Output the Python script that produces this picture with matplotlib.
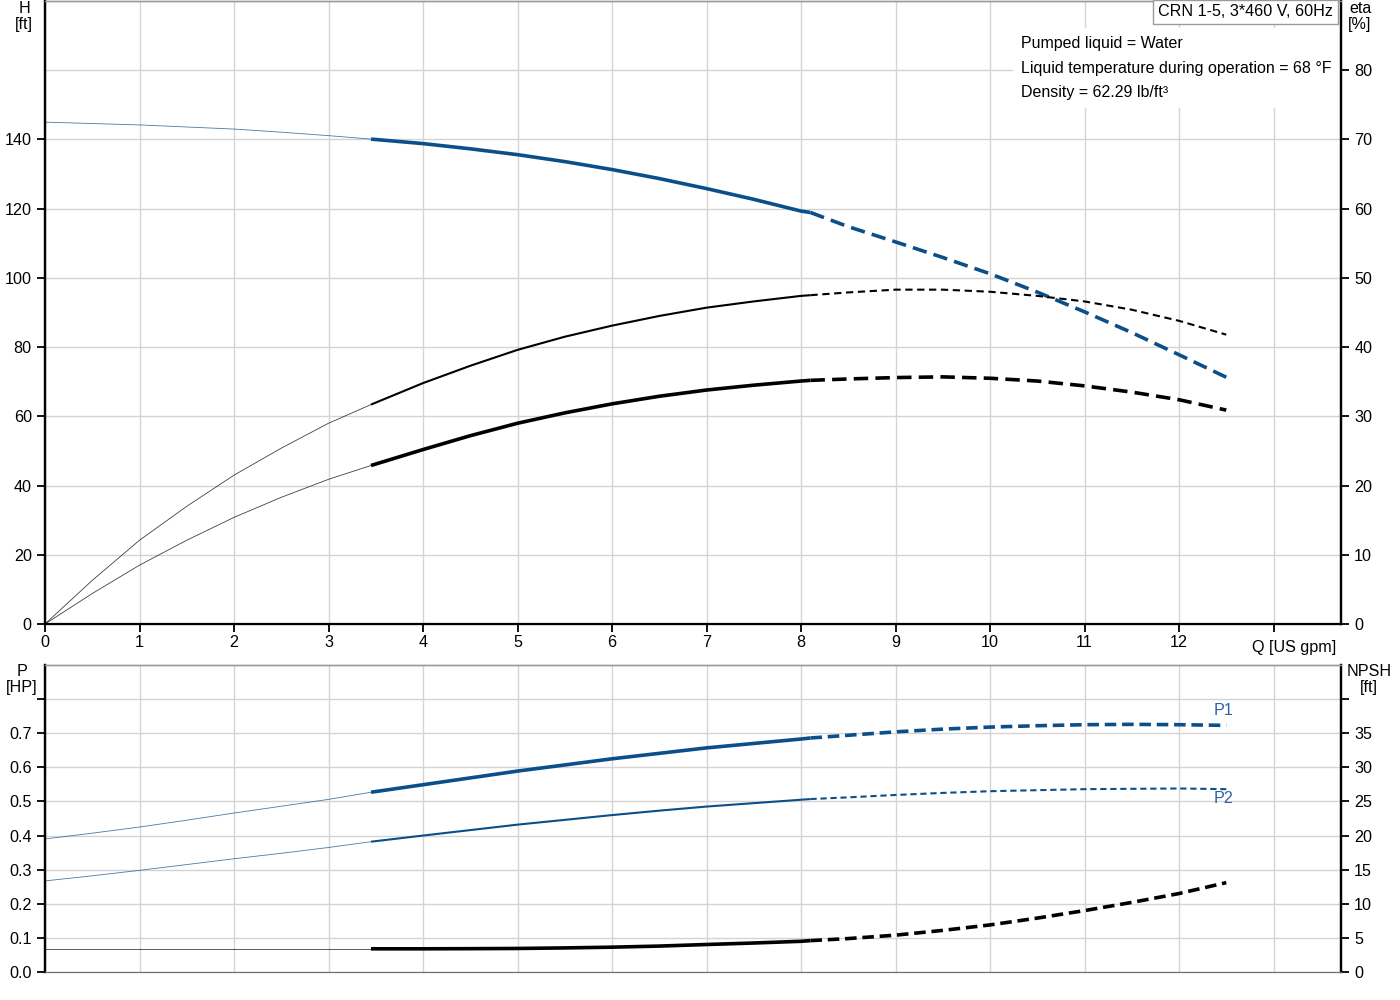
import matplotlib
matplotlib.use('Agg')
import matplotlib.pyplot as plt

plt.rcParams['font.family'] = ['Liberation Sans', 'DejaVu Sans']
plt.rcParams['font.size'] = 11.6

# flow points (US gpm)
q = [0, 0.5, 1, 1.5, 2, 2.5, 3, 3.45, 4, 4.5, 5, 5.5, 6, 6.5, 7, 7.5, 8, 8.1,
     8.5, 9, 9.5, 10, 10.5, 11, 11.5, 12, 12.5]
head = [145, 144.6, 144.2, 143.6, 143.0, 142.1, 141.1, 140.1, 138.8, 137.3, 135.6, 133.6,
        131.3, 128.7, 125.8, 122.7, 119.3, 118.9,
        114.8, 110.4, 105.9, 101.2, 95.9, 90.2, 84.2, 77.8, 71.3]
eta_pump = [0, 6.3, 12.1, 17.0, 21.5, 25.4, 29.0, 31.7, 34.8, 37.3, 39.6, 41.5,
            43.1, 44.5, 45.7, 46.6, 47.4, 47.5,
            47.9, 48.3, 48.3, 48.0, 47.4, 46.6, 45.4, 43.8, 41.8]
eta_total = [0, 4.4, 8.5, 12.1, 15.4, 18.3, 20.9, 22.9, 25.2, 27.2, 29.0, 30.5,
             31.8, 32.9, 33.8, 34.5, 35.1, 35.2,
             35.4, 35.6, 35.7, 35.5, 35.1, 34.4, 33.5, 32.4, 30.9]
p1 = [0.390, 0.407, 0.425, 0.445, 0.466, 0.486, 0.506, 0.527, 0.549, 0.569, 0.589, 0.607,
      0.625, 0.641, 0.657, 0.670, 0.683, 0.686,
      0.694, 0.704, 0.712, 0.718, 0.722, 0.725, 0.726, 0.725, 0.723]
p2 = [0.267, 0.282, 0.298, 0.315, 0.332, 0.348, 0.365, 0.382, 0.400, 0.416, 0.432, 0.446,
      0.460, 0.473, 0.485, 0.495, 0.505, 0.507,
      0.512, 0.519, 0.525, 0.530, 0.533, 0.536, 0.537, 0.538, 0.536]
npsh = [3.4, 3.4, 3.4, 3.4, 3.4, 3.4, 3.4, 3.4, 3.4, 3.42, 3.45, 3.53,
        3.64, 3.8, 4.03, 4.25, 4.5, 4.6,
        4.9, 5.4, 6.1, 6.9, 7.9, 9.0, 10.2, 11.5, 13.1]

q_lo = 3.45   # start of the solid range
q_hi = 8.1    # start of the dashed range

BLUE = '#0b4f8a'
GRID = '#d4d4d4'
W, H = 1400, 1000


def curve(ax, y, color, lw, dash):
    i1 = q.index(q_lo)
    i2 = q.index(q_hi)
    ax.plot(q[:i1 + 1], y[:i1 + 1], color=color, lw=0.6, alpha=0.75, zorder=3)
    ax.plot(q[i1:i2 + 1], y[i1:i2 + 1], color=color, lw=lw, zorder=3,
            solid_capstyle='butt')
    ax.plot(q[i2:], y[i2:], color=color, lw=lw, zorder=3, dashes=dash,
            dash_capstyle='butt')


def style(ax, axr):
    for a in (ax, axr):
        a.spines['top'].set_color('#9a9a9a')
        a.spines['top'].set_linewidth(1)
        a.spines['left'].set_linewidth(1.6)
        a.spines['right'].set_linewidth(1.6)
    ax.tick_params(direction='out', length=6, width=1.3, colors='black')
    axr.tick_params(direction='out', length=6, width=1.3, colors='black')
    axr.tick_params(axis='x', length=0)
    ax.grid(True, which='both', color=GRID, lw=1, zorder=0)
    ax.set_axisbelow(True)


fig = plt.figure(figsize=(14, 10), dpi=100)

# ---- top: head and efficiency
ax = fig.add_axes([45 / W, 1 - 624 / H, 1296 / W, 623 / H])
axr = ax.twinx()
xmax = 1296 / 94.5
ax.set_xlim(0, xmax)
ax.set_ylim(0, 180)
axr.set_ylim(0, 90)
ax.set_xticks(range(14))
ax.set_xticklabels([str(i) for i in range(13)] + [''])
ax.set_yticks(range(0, 141, 20))
ax.set_yticks([160], minor=True)
ax.tick_params(axis='y', which='minor', length=0)
axr.set_yticks(range(0, 81, 10))
ax.spines['bottom'].set_linewidth(1.6)
style(ax, axr)
ax.tick_params(axis='x', pad=2)

curve(ax, head, BLUE, 2.6, (4, 2))
curve(axr, eta_pump, 'black', 1.5, (3.5, 2.2))
curve(axr, eta_total, 'black', 2.6, (4, 2))

ax.text(12.77, -4.6, 'Q [US gpm]', ha='left', va='top')

fig.text(24 / W, 1 - 1 / H, 'H\n[ft]', ha='center', va='top', linespacing=1.1)
fig.text(1360 / W, 1 - 1 / H, 'eta\n[%]', ha='center', va='top', linespacing=1.1)
fig.text(1333 / W, 1 - 12 / H, 'CRN 1-5, 3*460 V, 60Hz', ha='right', va='center',
         bbox=dict(boxstyle='square,pad=0.3', fc='white', ec='#9a9a9a', lw=1))
info = ['Pumped liquid = Water',
        'Liquid temperature during operation = 68 \u00b0F',
        'Density = 62.29 lb/ft\u00b3']
# white block behind the text hides the grid, spines stay on top
ax.text(1021 / W, 1 - 68 / H, '\n'.join(info), transform=fig.transFigure,
        ha='left', va='center', fontsize=11.5, linespacing=1.76, zorder=2.4,
        bbox=dict(boxstyle='square,pad=0.5', fc='white', ec='none'))

# ---- bottom: power and NPSH
ax2 = fig.add_axes([45 / W, 1 - 972 / H, 1296 / W, 307 / H])
ax2r = ax2.twinx()
ax2.set_xlim(0, xmax)
ax2.set_ylim(0, 0.9)
ax2r.set_ylim(0, 45)
ax2.set_xticks(range(14))
ax2.set_yticks([i / 10 for i in range(9)])
ax2.set_yticklabels(['%.1f' % (i / 10) for i in range(8)] + [''])
ax2r.set_yticks(range(0, 41, 5))
ax2r.set_yticklabels([str(v) for v in range(0, 36, 5)] + [''])
ax2.spines['bottom'].set_color('#707070')
ax2r.spines['bottom'].set_color('#707070')
style(ax2, ax2r)
ax2.tick_params(axis='x', length=0, labelbottom=False)

curve(ax2, p1, BLUE, 2.6, (3.2, 1.6))
curve(ax2, p2, BLUE, 1.5, (3, 1.8))
curve(ax2r, npsh, 'black', 2.6, (3.2, 1.6))

ax2.text(12.47, 0.766, 'P1', color='#2a64a0', ha='center', va='center')
ax2.text(12.47, 0.509, 'P2', color='#2a64a0', ha='center', va='center')

fig.text(22 / W, 1 - 664 / H, 'P\n[HP]', ha='center', va='top', linespacing=1.1)
fig.text(1369 / W, 1 - 664 / H, 'NPSH\n[ft]', ha='center', va='top', linespacing=1.1)

fig.savefig('out.png', dpi=100)
